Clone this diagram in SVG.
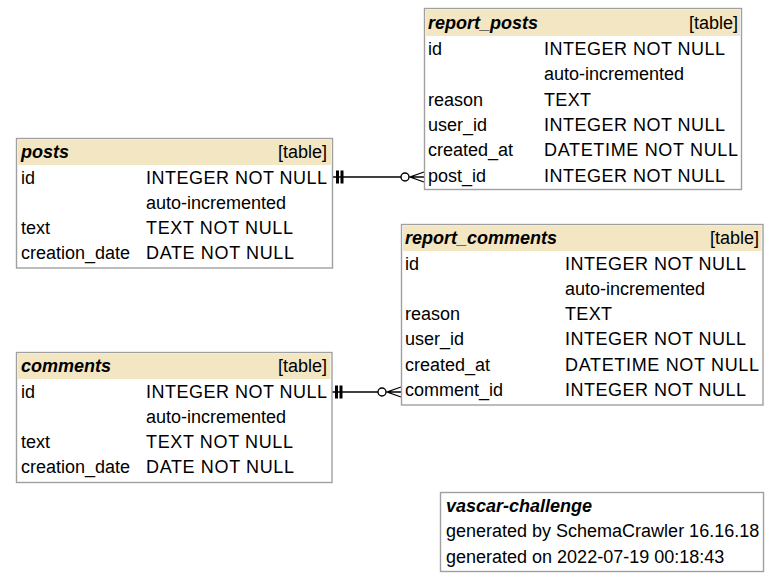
<svg xmlns="http://www.w3.org/2000/svg" width="780" height="583" viewBox="0 0 780 583">
<style>
.box{fill:#ffffff;stroke:#a0a0a0;stroke-width:1.4}
.hdr{fill:#f2e6c3}
.t{font-family:"Liberation Sans",Arial,sans-serif;font-size:18px;fill:#000}
.h{font-weight:bold;font-style:italic}
.e{text-anchor:end}
.ln{stroke:#000;stroke-width:1.3;fill:none}
.bar{fill:#000}
</style>
<rect width="780" height="583" fill="#ffffff"/>
<g id="connectors">
  <g id="fk_report_posts_posts">
    <path class="ln" d="M333,177 H401"/>
    <rect class="bar" x="336" y="170.5" width="3" height="13"/>
    <rect class="bar" x="340.5" y="170.5" width="3" height="13"/>
    <circle cx="405" cy="177" r="4" fill="#fff" stroke="#000" stroke-width="1.4"/>
    <path class="ln" stroke-width="1.6" d="M424,172 L410,177 L424,182 M410,177 H424"/>
  </g>
  <g id="fk_report_comments_comments">
    <path class="ln" d="M332,392 H378"/>
    <rect class="bar" x="335" y="385.5" width="3" height="13"/>
    <rect class="bar" x="339.5" y="385.5" width="3" height="13"/>
    <circle cx="382" cy="392" r="4" fill="#fff" stroke="#000" stroke-width="1.4"/>
    <path class="ln" stroke-width="1.6" d="M401,387 L387,392 L401,397 M387,392 H401"/>
  </g>
</g>
<g id="report_posts">
  <rect class="box" x="424.5" y="8.5" width="317" height="181"/>
  <rect class="hdr" x="426" y="10" width="314" height="26"/>
  <text class="t h" x="428" y="28.5">report_posts</text>
  <text class="t e" x="738" y="28.5">[table]</text>
  <text class="t" x="428" y="55">id</text>
  <text class="t" x="544" y="55" textLength="181" lengthAdjust="spacing">INTEGER NOT NULL</text>
  <text class="t" x="544" y="80.3">auto-incremented</text>
  <text class="t" x="428" y="105.6">reason</text>
  <text class="t" x="544" y="105.6" textLength="47" lengthAdjust="spacing">TEXT</text>
  <text class="t" x="428" y="130.9">user_id</text>
  <text class="t" x="544" y="130.9" textLength="181" lengthAdjust="spacing">INTEGER NOT NULL</text>
  <text class="t" x="428" y="156.2">created_at</text>
  <text class="t" x="544" y="156.2" textLength="194" lengthAdjust="spacing">DATETIME NOT NULL</text>
  <text class="t" x="428" y="181.5">post_id</text>
  <text class="t" x="544" y="181.5" textLength="181" lengthAdjust="spacing">INTEGER NOT NULL</text>
</g>
<g id="posts">
  <rect class="box" x="16.5" y="138.5" width="316" height="129.5"/>
  <rect class="hdr" x="18" y="140" width="313" height="25"/>
  <text class="t h" x="21" y="158">posts</text>
  <text class="t e" x="327" y="158">[table]</text>
  <text class="t" x="21" y="183.5">id</text>
  <text class="t" x="146" y="183.5" textLength="181" lengthAdjust="spacing">INTEGER NOT NULL</text>
  <text class="t" x="146" y="208.8">auto-incremented</text>
  <text class="t" x="21" y="234.1">text</text>
  <text class="t" x="146" y="234.1" textLength="147" lengthAdjust="spacing">TEXT NOT NULL</text>
  <text class="t" x="21" y="259.4">creation_date</text>
  <text class="t" x="146" y="259.4" textLength="148" lengthAdjust="spacing">DATE NOT NULL</text>
</g>
<g id="report_comments">
  <rect class="box" x="401.5" y="224.5" width="361.5" height="180.5"/>
  <rect class="hdr" x="403" y="226" width="358.5" height="25"/>
  <text class="t h" x="405" y="244">report_comments</text>
  <text class="t e" x="759" y="244">[table]</text>
  <text class="t" x="405" y="269.5">id</text>
  <text class="t" x="565" y="269.5" textLength="181" lengthAdjust="spacing">INTEGER NOT NULL</text>
  <text class="t" x="565" y="294.8">auto-incremented</text>
  <text class="t" x="405" y="320.1">reason</text>
  <text class="t" x="565" y="320.1" textLength="47" lengthAdjust="spacing">TEXT</text>
  <text class="t" x="405" y="345.4">user_id</text>
  <text class="t" x="565" y="345.4" textLength="181" lengthAdjust="spacing">INTEGER NOT NULL</text>
  <text class="t" x="405" y="370.7">created_at</text>
  <text class="t" x="565" y="370.7" textLength="194" lengthAdjust="spacing">DATETIME NOT NULL</text>
  <text class="t" x="405" y="396">comment_id</text>
  <text class="t" x="565" y="396" textLength="181" lengthAdjust="spacing">INTEGER NOT NULL</text>
</g>
<g id="comments">
  <rect class="box" x="16.5" y="352.5" width="315.5" height="130"/>
  <rect class="hdr" x="18" y="354" width="312.5" height="25"/>
  <text class="t h" x="21" y="372">comments</text>
  <text class="t e" x="327" y="372">[table]</text>
  <text class="t" x="21" y="397.5">id</text>
  <text class="t" x="146" y="397.5" textLength="181" lengthAdjust="spacing">INTEGER NOT NULL</text>
  <text class="t" x="146" y="422.8">auto-incremented</text>
  <text class="t" x="21" y="448.1">text</text>
  <text class="t" x="146" y="448.1" textLength="147" lengthAdjust="spacing">TEXT NOT NULL</text>
  <text class="t" x="21" y="473.4">creation_date</text>
  <text class="t" x="146" y="473.4" textLength="148" lengthAdjust="spacing">DATE NOT NULL</text>
</g>
<g id="legend">
  <rect class="box" x="440.5" y="492.5" width="323" height="79"/>
  <text class="t h" x="446" y="511.5">vascar-challenge</text>
  <text class="t" x="446" y="537">generated by SchemaCrawler 16.16.18</text>
  <text class="t" x="446" y="562.5">generated on 2022-07-19 00:18:43</text>
</g>
</svg>
